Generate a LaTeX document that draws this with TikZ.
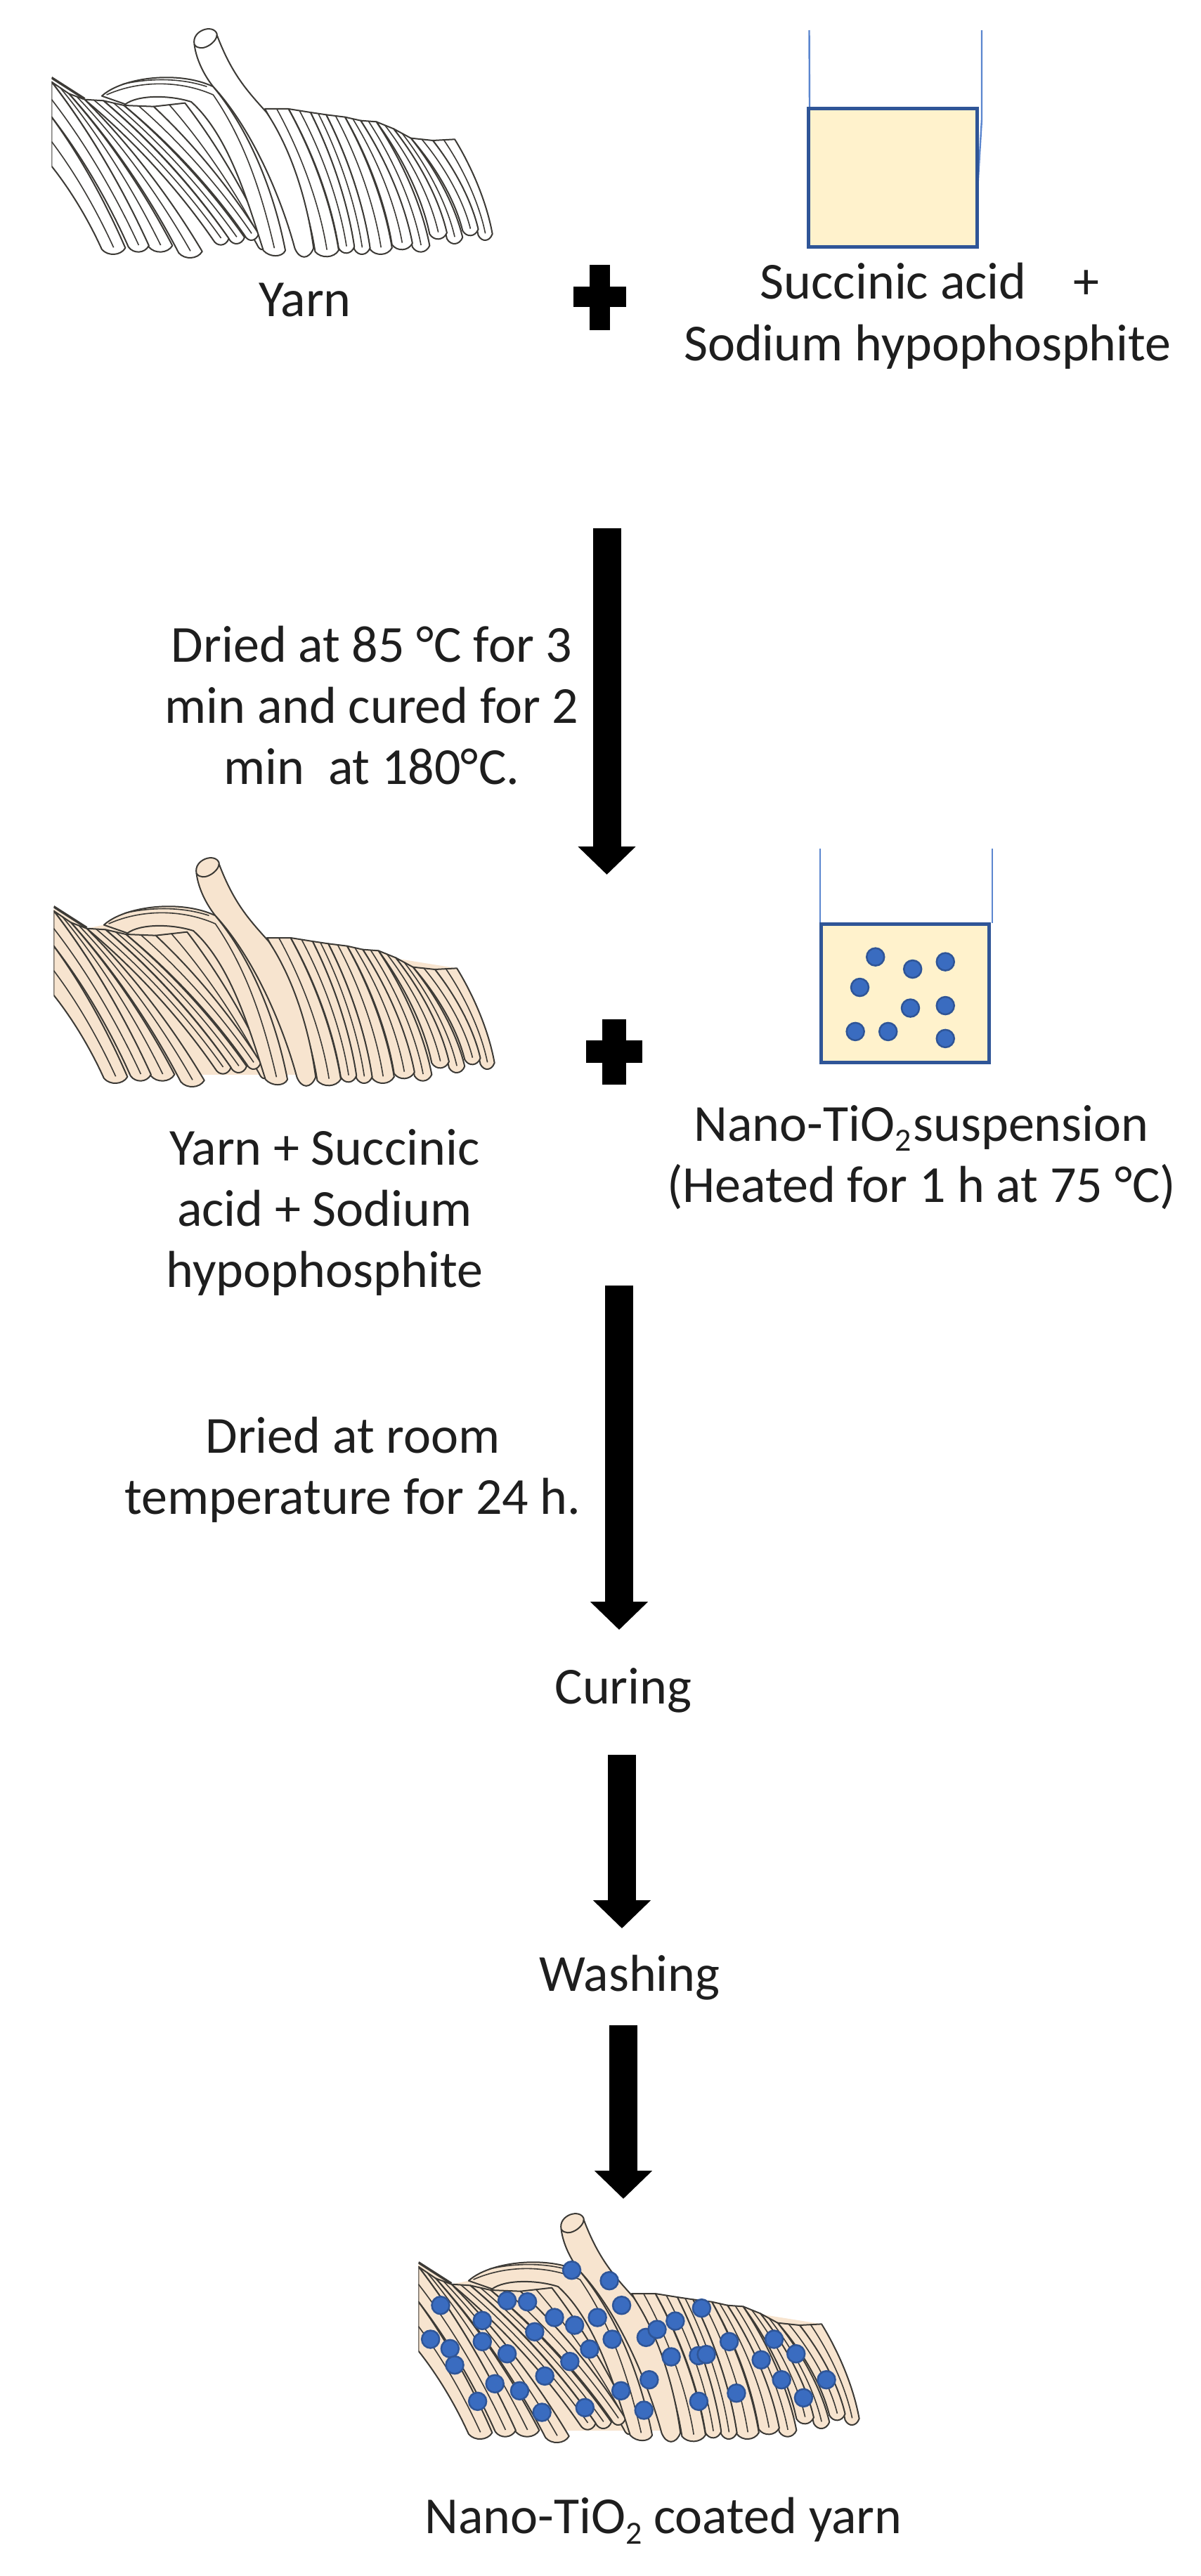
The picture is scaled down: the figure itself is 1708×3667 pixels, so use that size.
\documentclass[tikz,border=0pt]{standalone}
\usepackage{fontspec}
\setmainfont{Carlito}
\usetikzlibrary{arrows.meta}
\definecolor{beakerfill}{HTML}{FFF2CC}
\definecolor{beakeredge}{HTML}{2F5597}
\definecolor{beakerthin}{HTML}{5B86CF}
\definecolor{dotfill}{HTML}{3A6CC0}
\definecolor{yarnbeige}{HTML}{F7E4CF}
\definecolor{yarnink}{HTML}{3C3A36}
\definecolor{labelink}{HTML}{1E1E1E}
\tikzset{
  label text/.style={font=\fontsize{74}{87}\selectfont,text=labelink,align=center,inner sep=0pt,anchor=base},
  block arrow/.style={line width=40pt,draw=black,-{Triangle[length=40pt,width=80pt]}},
  beaker wall/.style={draw=beakerthin,line width=2.4pt},
  beaker body/.style={draw=beakeredge,fill=beakerfill,line width=5pt},
  plus bar/.style={fill=black,draw=none},
  particle/.style={fill=dotfill,draw=beakeredge,line width=2.5pt},
  yarn line/.style={draw=yarnink,line width=2pt,line join=round}
}
\newcommand\subtwo{\raisebox{-0.2em}{\fontsize{46}{46}\selectfont 2}}
% curvature of the strands: how far along x the two control points lie
\newcommand\ca{.5}
\newcommand\cb{.86}
% inner line of a strand: fraction, then the strand's seven numbers
\newcommand\strandinner[8]{%
  \pgfmathsetmacro\ix{#2+#1*(#4-#2)}%
  \pgfmathsetmacro\iy{#3+#1*(#5-#3)}%
  \pgfmathsetmacro\ex{#6+#1*#8}%
  \draw[yarn line,line width=1.6pt]
    (\ix,\iy) .. controls ({\ix+\ca*(\ex-\ix)},{\iy+.32*(#7-\iy)}) and ({\ix+\cb*(\ex-\ix)},{\iy+.68*(#7-\iy)}) .. (\ex,{#7-8});
}
% one strand: left top, right top, bottom-left corner, bottom width
\newcommand\strand[7]{%
  \path[yarn line,fill=yarnfill]
    (#1,#2) .. controls ({#1+\ca*(#5-#1)},{#2+.32*(#6-#2)}) and ({#1+\cb*(#5-#1)},{#2+.68*(#6-#2)}) .. (#5,#6)
    .. controls ({#5+.25*#7},{#6+30}) and ({#5+.8*#7},{#6+28}) .. ({#5+#7},{#6-6})
    .. controls ({#3+\cb*(#5+#7-#3)},{#4+.68*(#6-#4)}) and ({#3+\ca*(#5+#7-#3)},{#4+.32*(#6-#4)}) .. (#3,#4) -- cycle;
  \strandinner{.5}{#1}{#2}{#3}{#4}{#5}{#6}{#7}
}
\newcommand\yarnshape[3]{%
  \colorlet{yarnfill}{#3}%
  \begin{scope}[shift={(#1pt,-#2pt)},x=.4464pt,y=-.3333pt]
    \clip (75,0) rectangle (1600,1100);
    \fill[yarnfill] (75,280) -- (180,365) -- (235,350) -- (590,310) -- (755,405) -- (1360,535) -- (1470,900) -- (1300,930) -- (900,990) -- (260,990) -- (75,640) -- cycle;
    % right-hand coils
    \renewcommand\ca{.5}\renewcommand\cb{.86}%
    \strand{1290}{540}{1360}{535}{1435}{945}{45}
    \strand{1220}{530}{1290}{540}{1385}{925}{50}
    \strand{1165}{490}{1220}{530}{1335}{960}{50}
    \strand{1110}{460}{1165}{490}{1280}{940}{55}
    \strand{1060}{455}{1110}{460}{1225}{995}{55}
    \strand{1010}{440}{1060}{455}{1160}{985}{65}
    \strand{950}{430}{1010}{440}{1090}{1005}{70}
    \strand{900}{420}{950}{430}{1040}{1005}{50}
    \strand{830}{405}{900}{420}{990}{1000}{50}
    \strand{755}{405}{830}{405}{915}{1015}{75}
    % left-hand coils
    \renewcommand\ca{.42}\renewcommand\cb{.76}%
    \strand{400}{395}{500}{380}{730}{985}{35}
    \strand{305}{390}{400}{395}{690}{945}{45}
    \strand{240}{370}{305}{390}{640}{960}{50}
    \strand{180}{365}{240}{370}{590}{965}{50}
    \strand{130}{340}{180}{365}{480}{1020}{75}
    \strand{75}{290}{130}{340}{385}{995}{75}
    \strand{75}{440}{75}{290}{320}{995}{65}
    \strand{75}{650}{75}{440}{235}{1005}{75}
    \draw[yarn line,line width=3.5pt] (75,272) -- (180,362);
    % arched coil
    \path[yarn line,fill=yarnfill] (235,350) .. controls (300,270) and (480,240) .. (590,310)
      .. controls (720,520) and (790,800) .. (820,1010)
      .. controls (810,1040) and (770,1040) .. (750,1010)
      .. controls (700,800) and (640,520) .. (520,375)
      .. controls (450,345) and (350,345) .. (310,385) -- (235,350) -- cycle;
    \draw[yarn line,line width=1.6pt] (250,345) .. controls (350,285) and (480,280) .. (590,345) .. controls (700,560) and (750,800) .. (785,1000);
    \draw[yarn line,line width=1.6pt] (300,300) .. controls (380,275) and (480,270) .. (570,310);
    % tube that leaves the yarn
    \path[yarn line,fill=yarnfill] (530,130) .. controls (535,190) and (560,260) .. (590,310)
      .. controls (720,500) and (810,800) .. (850,1000)
      .. controls (865,1050) and (895,1050) .. (910,1000)
      .. controls (890,800) and (840,580) .. (760,420)
      .. controls (700,330) and (650,260) .. (602,90) -- cycle;
    \draw[yarn line,fill=yarnfill] (530,130) .. controls (520,70) and (590,40) .. (602,85) .. controls (605,120) and (550,170) .. (530,130) -- cycle;
  \end{scope}%
}
\begin{document}
\begin{tikzpicture}[x=1pt,y=-1pt]
\useasboundingbox (0,0) rectangle (1708,3667);
\fill[white] (0,0) rectangle (1708,3667);

% top row
\yarnshape{40}{20}{white}
\node[label text] (yarn) at (434,450) {Yarn};
\fill[plus bar] (839,377) rectangle (868,470);
\fill[plus bar] (816,408) rectangle (891,437);
\draw[beaker wall] (1151.5,43) -- (1152,153);
\draw[beaker wall] (1397,43) -- (1397,170) -- (1391,270);
\node[beaker body,minimum width=240pt,minimum height=197pt,inner sep=0pt] (beakerA) at (1270,253) {};
\node[label text] (acid) at (1323,425) {Succinic acid\hspace{0.9em}+};
\node[label text] (hypo) at (1320,513) {Sodium hypophosphite};

% first arrow
\coordinate (a1s) at (863.5,752);
\coordinate (a1e) at (863.5,1245);
\draw[block arrow] (a1s) -- (a1e);
\node[label text] (dried) at (529,1116) {Dried at 85 °C for 3\\min and cured for 2\\min\ \ at 180°C.};

% second row
\yarnshape{43}{1200}{yarnbeige}
\fill[plus bar] (857,1451) rectangle (891,1544);
\fill[plus bar] (834,1481) rectangle (914,1513);
\draw[beaker wall] (1167,1208) -- (1167,1314);
\draw[beaker wall] (1412,1208) -- (1412,1314);
\node[beaker body,minimum width=239pt,minimum height=197pt,inner sep=0pt] (beakerB) at (1287.5,1414) {};
\begin{scope}[shift={(40pt,-1180pt)},x=1.0586pt,y=-.4337pt]
  \foreach \dx/\dy in {1139/420,1189/460,1233/436,1118/520,1186/588,1233/580,1112/665,1156/665,1233/688}
    \draw[particle] (\dx,\dy) circle[radius=12.5pt];
\end{scope}
\node[label text] (mix) at (462,1832.6) {Yarn + Succinic\\acid + Sodium\\hypophosphite};
\node[label text] (nano) at (1311,1711) {Nano-TiO\subtwo\hspace{0.04em}suspension\\(Heated for 1 h at 75 °C)};

% second arrow
\coordinate (a2s) at (881,1830);
\coordinate (a2e) at (881,2320);
\draw[block arrow] (a2s) -- (a2e);
\node[label text] (room) at (502,2155) {Dried at room\\temperature for 24 h.};

\node[label text] (curing) at (887,2425) {Curing};
\coordinate (a3s) at (885,2498);
\coordinate (a3e) at (885,2745);
\draw[block arrow] (a3s) -- (a3e);
\node[label text] (washing) at (896,2834) {Washing};
\coordinate (a4s) at (887,2883);
\coordinate (a4e) at (887,3130);
\draw[block arrow] (a4s) -- (a4e);

% coated yarn
\yarnshape{562}{3130}{yarnbeige}
\begin{scope}[shift={(560pt,-3120pt)},x=.4464pt,y=-.3333pt]
  \foreach \dx/\dy in {150/485,118/630,180/670,195/740,283/550,283/640,362/692,362/465,427/470,450/598,513/537,577/570,650/537,727/485,688/380,568/335,697/630,625/672,562/725,482/787,323/820,402/850,268/895,473/942,610/922,725/850,815/803,798/933,805/622,840/588,898/552,982/497,885/705,972/700,997/695,1070/640,1213/630,1283/692,1172/718,1237/803,1380/803,1307/880,1093/860,973/895}
    \draw[particle] (\dx,\dy) circle[radius=12.5pt];
\end{scope}
\node[label text] (coated) at (944,3606.7) {Nano-TiO\subtwo\ coated yarn};
\end{tikzpicture}
\end{document}
